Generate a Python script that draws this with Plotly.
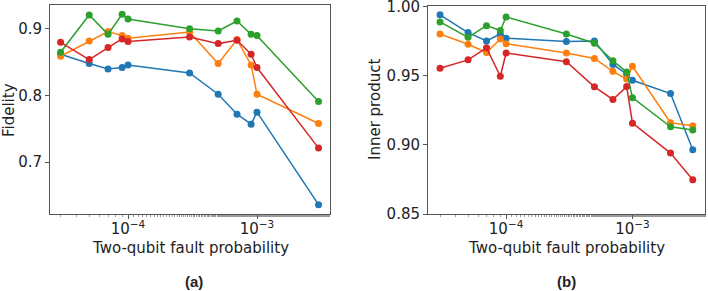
import plotly.graph_objects as go

# Data
p_a = [3e-5, 5e-5, 7e-5, 9e-5, 1e-4, 3e-4, 5e-4, 7e-4, 9e-4, 1e-3, 3e-3]
fid_blue = [0.862, 0.848, 0.840, 0.842, 0.846, 0.834, 0.802, 0.772, 0.757, 0.775, 0.636]
fid_orange = [0.859, 0.882, 0.896, 0.890, 0.886, 0.8955, 0.848, 0.884, 0.846, 0.802, 0.758]
fid_green = [0.865, 0.921, 0.892, 0.922, 0.915, 0.9005, 0.897, 0.912, 0.892, 0.890, 0.791]
fid_red = [0.880, 0.854, 0.872, 0.885, 0.881, 0.888, 0.878, 0.883, 0.862, 0.842, 0.721]

p_b = [3e-5, 5e-5, 7e-5, 9e-5, 1e-4, 3e-4, 5e-4, 7e-4, 9e-4, 1e-3, 2e-3, 3e-3]
ip_blue = [0.9938, 0.981, 0.975, 0.980, 0.977, 0.9745, 0.975, 0.958, 0.951, 0.9466, 0.937, 0.8964]
ip_orange = [0.980, 0.9726, 0.9666, 0.9764, 0.973, 0.9663, 0.9623, 0.953, 0.9474, 0.9567, 0.9159, 0.9137]
ip_green = [0.9887, 0.9776, 0.986, 0.9825, 0.9923, 0.980, 0.9733, 0.9606, 0.9526, 0.934, 0.913, 0.9106]
ip_red = [0.9553, 0.9613, 0.970, 0.9495, 0.9663, 0.960, 0.9418, 0.9327, 0.942, 0.9156, 0.894, 0.8748]

colors = ["#1f77b4", "#ff7f0e", "#2ca02c", "#d62728"]
xtickvals = [1e-4, 1e-3]
xticktext = ["10<sup>−4</sup>", "10<sup>−3</sup>"]

W, H = 708, 291
FONT = "DejaVu Sans"
FS = 15
TXT = "#222222"

fig = go.Figure()
for ys, c in zip([fid_blue, fid_orange, fid_green, fid_red], colors):
    fig.add_trace(go.Scatter(x=p_a, y=ys, mode="lines+markers", xaxis="x", yaxis="y",
                             line=dict(color=c, width=1.5), marker=dict(color=c, size=7),
                             showlegend=False, cliponaxis=False))
for ys, c in zip([ip_blue, ip_orange, ip_green, ip_red], colors):
    fig.add_trace(go.Scatter(x=p_b, y=ys, mode="lines+markers", xaxis="x2", yaxis="y2",
                             line=dict(color=c, width=1.5), marker=dict(color=c, size=7),
                             showlegend=False, cliponaxis=False))

axcommon = dict(showline=True, mirror=True, linecolor="#555555", linewidth=1,
                ticks="outside", tickcolor="#555555", ticklen=4, showgrid=False,
                zeroline=False, automargin=False, ticklabeloverflow="allow",
                tickfont=dict(family=FONT, size=FS, color=TXT))
minor = dict(ticks="outside", ticklen=2, tickcolor="#999999", showgrid=False)

fig.update_layout(
    width=W, height=H, margin=dict(l=0, r=0, t=0, b=0, autoexpand=False),
    paper_bgcolor="white", plot_bgcolor="white",
    font=dict(family=FONT, color=TXT),
    xaxis=dict(type="log", domain=[50/W, 330/W], range=[-4.605, -2.434],
               tickvals=xtickvals, ticktext=xticktext, minor=minor, ticklabelstandoff=-3,
               anchor="y", **axcommon),
    yaxis=dict(domain=[1-214/H, 1-5/H], range=[0.622, 0.936], tickvals=[0.7, 0.8, 0.9],
               ticktext=["0.7", "0.8", "0.9"], anchor="x", **axcommon),
    xaxis2=dict(type="log", domain=[428/W, 705/W], range=[-4.618, -2.426],
                tickvals=xtickvals, ticktext=xticktext, minor=minor, ticklabelstandoff=-3,
                anchor="y2", **axcommon),
    yaxis2=dict(domain=[1-214/H, 1-6/H], range=[0.85, 1.0002], tickvals=[0.85, 0.90, 0.95, 1.00],
                ticktext=["0.85", "0.90", "0.95", "1.00"], anchor="x2", **axcommon),
)

def ann(text, x, y, size=FS, angle=0, fam=FONT):
    fig.add_annotation(text=text, x=x/W, y=1-y/H, xref="paper", yref="paper",
                       showarrow=False, textangle=angle, xanchor="center", yanchor="middle",
                       font=dict(family=fam, size=size, color=TXT))

ann("Two-qubit fault probability", 190, 248)
ann("Two-qubit fault probability", 566, 248)
ann("Fidelity", 9, 110, angle=-90)
ann("Inner product", 375, 110, angle=-90)
ann("<b>(a)</b>", 194, 281, size=15, fam="Liberation Sans")
ann("<b>(b)</b>", 566, 281, size=15, fam="Liberation Sans")

fig.write_html("out.html", config={"displayModeBar": False},
               post_script="document.body.style.margin='0';document.body.style.overflow='hidden';")
